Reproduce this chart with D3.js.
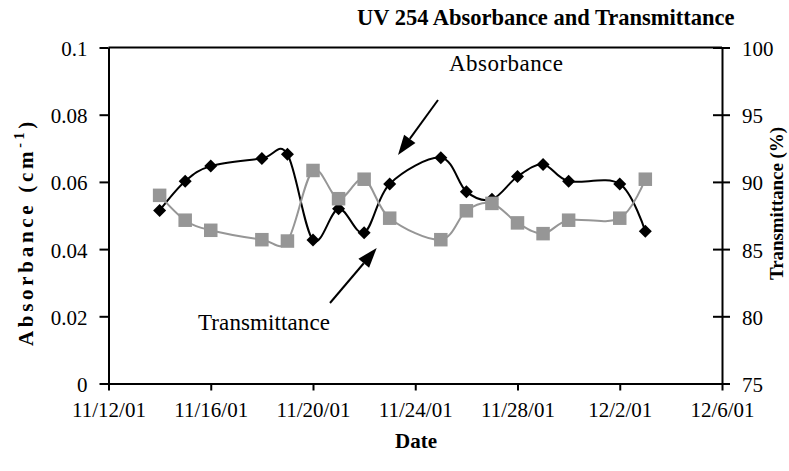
<!DOCTYPE html>
<html><head><meta charset="utf-8">
<script src="https://cdn.jsdelivr.net/npm/d3@7"></script>
<style>body{margin:0;background:#fff} text{font-family:"Liberation Serif","Times New Roman",serif;fill:#000}</style>
</head><body><svg id="c" width="789" height="471" font-family="Liberation Serif, Times New Roman, serif"></svg>
<script>
const dates = ["11/14/01","11/15/01","11/16/01","11/18/01","11/19/01","11/20/01","11/21/01","11/22/01","11/23/01","11/25/01","11/26/01","11/27/01","11/28/01","11/29/01","11/30/01","12/2/01","12/3/01"];
const absorbance = [0.0515,0.0602,0.0647,0.0670,0.0682,0.0427,0.0520,0.0449,0.0594,0.0672,0.0571,0.0548,0.0616,0.0652,0.0602,0.0594,0.0453];
const transmittance = [89.0,87.15,86.4,85.7,85.6,90.85,88.75,90.2,87.3,85.7,87.85,88.4,86.95,86.15,87.15,87.3,90.2];
const xTickLabels = ["11/12/01","11/16/01","11/20/01","11/24/01","11/28/01","12/2/01","12/6/01"];
const absTicks = [0,0.02,0.04,0.06,0.08,0.1];
const transTicks = [75,80,85,90,95,100];

const FONT = '"Liberation Serif","Times New Roman",serif';
const parse = d3.utcParse("%m/%d/%y");
const svg = d3.select("#c");
const m = {left:108.5, right:722, top:47.5, bottom:383.5};
const x = d3.scaleUtc().domain([parse(xTickLabels[0]), parse(xTickLabels[xTickLabels.length-1])]).range([m.left, m.right]);
const yL = d3.scaleLinear().domain([0,0.1]).range([m.bottom,m.top]);
const yR = d3.scaleLinear().domain([75,100]).range([m.bottom,m.top]);
const fmtDate = d => `${d.getUTCMonth()+1}/${d.getUTCDate()}/${String(d.getUTCFullYear()).slice(2)}`;

// frame top line
svg.append("line").attr("x1",m.left).attr("x2",m.right).attr("y1",m.top).attr("y2",m.top).attr("stroke","#000").attr("stroke-width",2);

function styleAxis(g){
  g.attr("font-family",FONT).attr("font-size",21);
  g.selectAll(".domain").attr("stroke","#000").attr("stroke-width",2);
  g.selectAll(".tick line").attr("stroke","#000").attr("stroke-width",2);
  g.selectAll(".tick text").attr("fill","#000").style("font-family",FONT).style("font-size","21px");
}
const gx = svg.append("g").attr("transform",`translate(0,${m.bottom})`)
  .call(d3.axisBottom(x).tickValues(xTickLabels.map(parse)).tickFormat(fmtDate).tickSizeInner(7).tickSizeOuter(0).tickPadding(12));
styleAxis(gx);
const gl = svg.append("g").attr("transform",`translate(${m.left},0)`)
  .call(d3.axisLeft(yL).tickValues(absTicks).tickFormat(d3.format("~g")).tickSizeInner(9).tickSizeOuter(0).tickPadding(12));
styleAxis(gl); gl.selectAll(".tick text").attr("dy","0.38em");
const gr = svg.append("g").attr("transform",`translate(${m.right},0)`)
  .call(d3.axisRight(yR).tickValues(transTicks).tickSizeInner(8).tickSizeOuter(0).tickPadding(12));
styleAxis(gr); gr.selectAll(".tick line").attr("x1",-9).attr("x2",8); gr.selectAll(".tick text").attr("dy","0.38em");

const pts = dates.map((d,i)=>({date:parse(d), a:absorbance[i], t:transmittance[i]}));
const curve = d3.curveCardinal.tension(0);
svg.append("path").datum(pts).attr("fill","none").attr("stroke","#000").attr("stroke-width",2)
  .attr("d", d3.line().x(d=>x(d.date)).y(d=>yL(d.a)).curve(curve));
svg.selectAll(".dia").data(pts).join("path").attr("class","dia")
  .attr("transform",d=>`translate(${x(d.date)},${yL(d.a)})`).attr("d","M0,-6.5L6.5,0L0,6.5L-6.5,0Z").attr("fill","#000");
svg.append("path").datum(pts).attr("fill","none").attr("stroke","#969696").attr("stroke-width",2)
  .attr("d", d3.line().x(d=>x(d.date)).y(d=>yR(d.t)).curve(curve));
svg.selectAll(".sq").data(pts).join("rect").attr("class","sq")
  .attr("x",d=>x(d.date)-6.75).attr("y",d=>yR(d.t)-6.75).attr("width",13.5).attr("height",13.5).attr("fill","#969696");

// annotations with arrows
function arrow(x1,y1,x2,y2){
  const ang=Math.atan2(y2-y1,x2-x1), L=20, w=7;
  const bx=x2-L*Math.cos(ang), by=y2-L*Math.sin(ang);
  svg.append("line").attr("x1",x1).attr("y1",y1).attr("x2",bx).attr("y2",by).attr("stroke","#000").attr("stroke-width",2);
  svg.append("path").attr("d",`M${x2},${y2}L${bx+w*Math.sin(ang)},${by-w*Math.cos(ang)}L${bx-w*Math.sin(ang)},${by+w*Math.cos(ang)}Z`).attr("fill","#000");
}
arrow(438,100,398,155);
arrow(330,303,376.7,248);
svg.append("text").attr("x",449).attr("y",71).style("font-family",FONT).style("font-size","23px").attr("textLength",114).attr("lengthAdjust","spacing").text("Absorbance");
svg.append("text").attr("x",198).attr("y",330).style("font-family",FONT).style("font-size","23px").attr("textLength",132).attr("lengthAdjust","spacing").text("Transmittance");

// titles
svg.append("text").attr("x",357).attr("y",25).style("font-family",FONT).style("font-size","22.5px").style("font-weight","bold").text("UV 254 Absorbance and Transmittance");
svg.append("text").attr("x",416).attr("y",448).attr("text-anchor","middle").style("font-family",FONT).style("font-size","21px").style("font-weight","bold").text("Date");
svg.append("text").attr("transform","translate(783,203.5) rotate(-90)").attr("text-anchor","middle").style("font-family",FONT).style("font-size","19px").style("font-weight","bold")
  .attr("textLength",153).attr("lengthAdjust","spacing").text("Transmittance (%)");
const lt = svg.append("text").attr("transform","translate(33,346) rotate(-90)").style("font-family",FONT).style("font-size","21px").style("font-weight","bold").style("letter-spacing","3.7px");
lt.append("tspan").text("Absorbance (cm");
lt.append("tspan").attr("dy",-9).style("font-size","14px").text("-1");
lt.append("tspan").attr("dy",9).text(")");
</script></body></html>
